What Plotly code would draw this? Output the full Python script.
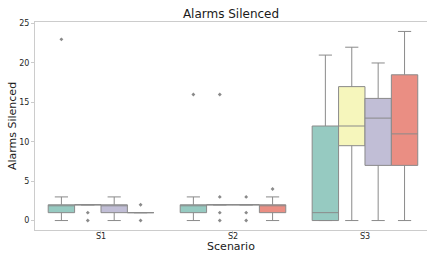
import plotly.graph_objects as go

scenarios = ["S1", "S2", "S3"]
hue_colors = ["#96cac1", "#f6f6bc", "#c1bed6", "#ea8e83"]

# per hue: values for S1, S2, S3
q1 = [[1, 1, 0], [2, 2, 9.5], [1, 2, 7], [1, 1, 7]]
median = [[2, 2, 1], [2, 2, 12], [2, 2, 13], [1, 2, 11]]
q3 = [[2, 2, 12], [2, 2, 17], [2, 2, 15.5], [1, 2, 18.5]]
lowerfence = [[0, 0, 0], [2, 2, 0], [0, 2, 0], [1, 0, 0]]
upperfence = [[3, 3, 21], [2, 2, 22], [3, 2, 20], [1, 3, 24]]

# outliers per hue: scenario index and value
outlier_cat = [[0, 1], [0, 0, 1, 1, 1, 1], [1, 1, 1], [0, 0, 1]]
outlier_val = [[23, 16], [1, 0, 16, 3, 1, 0], [3, 1, 0], [2, 0, 4]]

n_hue = len(hue_colors)
slot = 0.8 / n_hue
edge = "#8a8a8a"

fig = go.Figure()
for h in range(n_hue):
    off = (h - (n_hue - 1) / 2) * slot
    xs = [i + off for i in range(len(scenarios))]
    fig.add_trace(go.Box(
        x=xs, q1=q1[h], median=median[h], q3=q3[h],
        lowerfence=lowerfence[h], upperfence=upperfence[h],
        width=slot, whiskerwidth=0.5, boxpoints=False,
        fillcolor=hue_colors[h], line=dict(color=edge, width=1),
        showlegend=False,
    ))
    fig.add_trace(go.Scatter(
        x=[c + off for c in outlier_cat[h]], y=outlier_val[h],
        mode="markers",
        marker=dict(symbol="diamond", size=3, color=edge, line=dict(width=0)),
        showlegend=False,
    ))

font = "DejaVu Sans"
fig.update_layout(
    width=427, height=253,
    margin=dict(l=35, r=0, t=22, b=23),
    paper_bgcolor="white", plot_bgcolor="white",
    font=dict(family=font, color="#262626"),
    title=dict(text="Alarms Silenced", x=0.5, xref="paper", y=1 - 14 / 253,
               yref="container", xanchor="center", yanchor="middle",
               font=dict(size=12, color="#1a1a1a", family=font)),
)
fig.update_xaxes(
    range=[-0.5, 2.47], tickvals=list(range(len(scenarios))), ticktext=scenarios,
    showgrid=False, zeroline=False, showline=True, linecolor="#cccccc", linewidth=1,
    mirror=True, ticks="outside", ticklen=3, tickcolor="#cccccc",
    tickfont=dict(size=8, color="#262626"), ticklabelstandoff=-5,
    title=dict(text="Scenario", font=dict(size=11, color="#1a1a1a"), standoff=3),
    automargin=False,
)
fig.update_yaxes(
    range=[-1.2, 25.2], tickvals=[0, 5, 10, 15, 20, 25],
    showgrid=False, zeroline=False, showline=True, linecolor="#cccccc", linewidth=1,
    ticks="outside", ticklen=3, tickcolor="#cccccc",
    tickfont=dict(size=8, color="#262626"),
    title=dict(text="Alarms Silenced", font=dict(size=11, color="#1a1a1a"), standoff=0),
    automargin=False,
)
fig.write_html("out.html", config={"displayModeBar": False},
               post_script="document.body.style.margin='0';document.body.style.overflow='hidden';")
